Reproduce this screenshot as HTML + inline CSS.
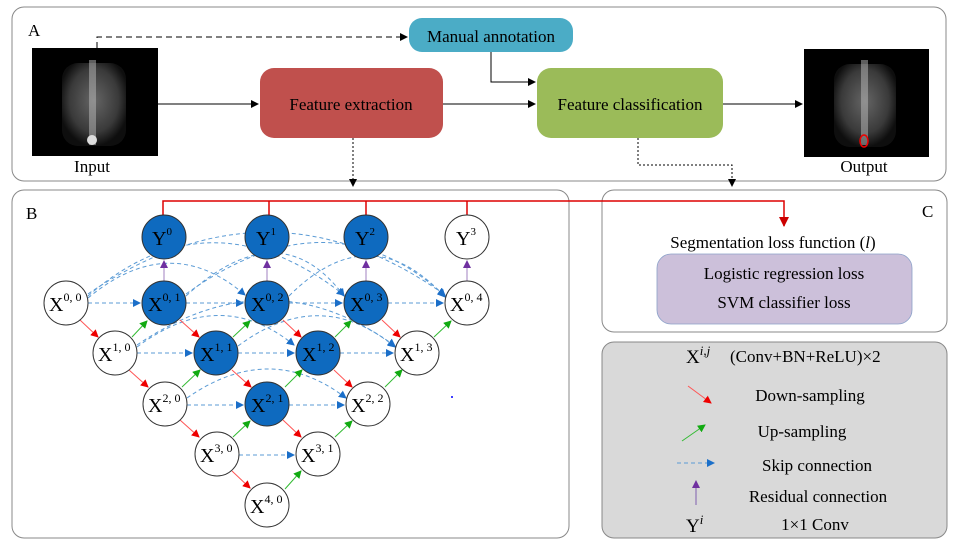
<!DOCTYPE html>
<html><head><meta charset="utf-8"><style>
html,body{margin:0;padding:0;background:#fff;}
svg{display:block;font-family:"Liberation Serif",serif;}
</style></head><body>
<svg width="957" height="546" viewBox="0 0 957 546" xmlns="http://www.w3.org/2000/svg">
<defs>
<marker id="ak" markerWidth="8" markerHeight="8" refX="7" refY="4" orient="auto" markerUnits="userSpaceOnUse"><path d="M0,0 L8,4 L0,8 z" fill="#000"/></marker>
<marker id="ar" markerWidth="8" markerHeight="8" refX="7" refY="4" orient="auto" markerUnits="userSpaceOnUse"><path d="M0,0 L8,4 L0,8 z" fill="#e00"/></marker>
<marker id="ag" markerWidth="8" markerHeight="8" refX="7" refY="4" orient="auto" markerUnits="userSpaceOnUse"><path d="M0,0 L8,4 L0,8 z" fill="#1a1"/></marker>
<marker id="ab" markerWidth="8" markerHeight="8" refX="7" refY="4" orient="auto" markerUnits="userSpaceOnUse"><path d="M0,0 L8,4 L0,8 z" fill="#1b6fc9"/></marker>
<marker id="ap" markerWidth="8" markerHeight="8" refX="7" refY="4" orient="auto" markerUnits="userSpaceOnUse"><path d="M0,0 L8,4 L0,8 z" fill="#7030a0"/></marker>
<marker id="ard" markerWidth="10" markerHeight="10" refX="9" refY="5" orient="auto" markerUnits="userSpaceOnUse"><path d="M0,0 L10,5 L0,10 z" fill="#c00"/></marker>
<radialGradient id="body" cx="50%" cy="45%" r="55%"><stop offset="0" stop-color="#777"/><stop offset="0.7" stop-color="#444"/><stop offset="1" stop-color="#111"/></radialGradient>
</defs>

<!-- Panel A -->
<rect x="12" y="7" width="934" height="174" rx="12" fill="#fff" stroke="#888" stroke-width="1"/>
<text x="28" y="36" font-size="17">A</text>
<rect x="32" y="48" width="126" height="108" fill="#000"/>
<rect x="62" y="63" width="64" height="83" rx="16" fill="url(#body)" opacity="0.85"/>
<rect x="89" y="60" width="7" height="85" fill="#bbb" opacity="0.5"/>
<ellipse cx="92" cy="140" rx="5" ry="5" fill="#ddd"/>
<text x="92" y="172" font-size="17" text-anchor="middle">Input</text>
<rect x="804" y="49" width="125" height="108" fill="#000"/>
<rect x="834" y="64" width="62" height="83" rx="16" fill="url(#body)" opacity="0.85"/>
<rect x="861" y="60" width="7" height="85" fill="#bbb" opacity="0.5"/>
<ellipse cx="864" cy="141" rx="4" ry="6" fill="none" stroke="#e00" stroke-width="1.5"/>
<text x="864" y="172" font-size="17" text-anchor="middle">Output</text>

<rect x="260" y="68" width="183" height="70" rx="14" fill="#c0504d"/>
<text x="351" y="110" font-size="17" text-anchor="middle">Feature extraction</text>
<rect x="537" y="68" width="186" height="70" rx="14" fill="#9bbb59"/>
<text x="630" y="110" font-size="17" text-anchor="middle">Feature classification</text>
<rect x="409" y="18" width="164" height="34" rx="13" fill="#4bacc6"/>
<text x="491" y="42" font-size="17" text-anchor="middle">Manual annotation</text>

<path d="M97,48 V37 H407" fill="none" stroke="#000" stroke-dasharray="6,4" marker-end="url(#ak)"/>
<path d="M491,52 V82 H535" fill="none" stroke="#000" marker-end="url(#ak)"/>
<path d="M158,104 H258" stroke="#000" marker-end="url(#ak)"/>
<path d="M443,104 H535" stroke="#000" marker-end="url(#ak)"/>
<path d="M723,104 H802" stroke="#000" marker-end="url(#ak)"/>
<path d="M353,138 V186" stroke="#000" stroke-dasharray="2,2" marker-end="url(#ak)"/>
<path d="M638,138 V165 H732 V186" fill="none" stroke="#000" stroke-dasharray="2,2" marker-end="url(#ak)"/>

<!-- Panel B -->
<rect x="12" y="190" width="557" height="348" rx="12" fill="#fff" stroke="#888"/>
<text x="26" y="219" font-size="17">B</text>
<!-- Panel C -->
<rect x="602" y="190" width="345" height="142" rx="12" fill="#fff" stroke="#888"/>
<text x="922" y="217" font-size="17">C</text>
<text x="773" y="248" font-size="17" text-anchor="middle">Segmentation loss function (<tspan font-style="italic">l</tspan>)</text>
<rect x="657" y="254" width="255" height="70" rx="14" fill="#ccc0da" stroke="#8aa0c8" stroke-width="0.8"/>
<text x="784" y="279" font-size="17" text-anchor="middle">Logistic regression loss</text>
<text x="784" y="308" font-size="17" text-anchor="middle">SVM classifier loss</text>

<!-- red top line -->
<path d="M163,215 V201 H784 V226" fill="none" stroke="#d00" stroke-width="1.5" marker-end="url(#ard)"/>
<path d="M269,201 V215 M366,201 V215 M467,201 V215" stroke="#d00" stroke-width="1.5"/>

<!-- skip connections -->
<g stroke="#5b9bd5" stroke-width="1" stroke-dasharray="4,3" fill="none">
<path d="M88,303 H140" marker-end="url(#ab)"/>
<path d="M186,303 H243" marker-end="url(#ab)"/>
<path d="M289,303 H342" marker-end="url(#ab)"/>
<path d="M388,303 H443" marker-end="url(#ab)"/>
<path d="M137,353 H192" marker-end="url(#ab)"/>
<path d="M238,353 H294" marker-end="url(#ab)"/>
<path d="M340,353 H393" marker-end="url(#ab)"/>
<path d="M187,405 H243" marker-end="url(#ab)"/>
<path d="M289,405 H344" marker-end="url(#ab)"/>
<path d="M239,455 H294" marker-end="url(#ab)"/>
<path d="M88,298 Q170,230 245,295" marker-end="url(#ab)"/>
<path d="M88,296 Q210,190 344,295" marker-end="url(#ab)"/>
<path d="M88,294 Q270,170 445,295" marker-end="url(#ab)"/>
<path d="M186,296 Q280,210 344,296" marker-end="url(#ab)"/>
<path d="M186,294 Q330,190 445,296" marker-end="url(#ab)"/>
<path d="M289,296 Q370,215 445,297" marker-end="url(#ab)"/>
<path d="M137,347 Q220,285 294,345" marker-end="url(#ab)"/>
<path d="M137,345 Q270,255 395,346" marker-end="url(#ab)"/>
<path d="M238,346 Q320,285 395,347" marker-end="url(#ab)"/>
<path d="M187,398 Q270,340 346,398" marker-end="url(#ab)"/>
</g>

<!-- down-sampling red -->
<g stroke="#f55" stroke-width="1" marker-end="url(#ar)">
<path d="M80,320 L98,337"/><path d="M129,370 L148,387"/><path d="M180,420 L199,437"/><path d="M232,471 L250,488"/>
<path d="M180,320 L199,337"/><path d="M232,370 L251,387"/><path d="M283,420 L301,437"/>
<path d="M283,320 L301,337"/><path d="M334,370 L352,387"/><path d="M382,320 L400,337"/>
</g>
<!-- up-sampling green -->
<g stroke="#3b3" stroke-width="1" marker-end="url(#ag)">
<path d="M132,337 L147,321"/><path d="M182,387 L200,370"/><path d="M233,437 L250,421"/><path d="M285,489 L301,471"/>
<path d="M233,337 L250,321"/><path d="M285,387 L302,370"/><path d="M335,437 L352,421"/>
<path d="M335,337 L351,321"/><path d="M385,387 L402,370"/><path d="M434,337 L451,321"/>
</g>
<!-- residual purple -->
<g stroke="#a080c0" stroke-width="1" marker-end="url(#ap)">
<path d="M164,281 V261"/><path d="M267,281 V261"/><path d="M366,281 V261"/><path d="M467,281 V261"/>
</g>

<!-- nodes -->
<g stroke="#333" stroke-width="1" font-size="21">
<circle cx="164" cy="237" r="22" fill="#0e6abf"/><circle cx="267" cy="237" r="22" fill="#0e6abf"/><circle cx="366" cy="237" r="22" fill="#0e6abf"/><circle cx="467" cy="237" r="22" fill="#fff"/>
<circle cx="66" cy="303" r="22" fill="#fff"/><circle cx="164" cy="303" r="22" fill="#0e6abf"/><circle cx="267" cy="303" r="22" fill="#0e6abf"/><circle cx="366" cy="303" r="22" fill="#0e6abf"/><circle cx="467" cy="303" r="22" fill="#fff"/>
<circle cx="115" cy="353" r="22" fill="#fff"/><circle cx="216" cy="353" r="22" fill="#0e6abf"/><circle cx="318" cy="353" r="22" fill="#0e6abf"/><circle cx="417" cy="353" r="22" fill="#fff"/>
<circle cx="165" cy="404" r="22" fill="#fff"/><circle cx="267" cy="404" r="22" fill="#0e6abf"/><circle cx="368" cy="404" r="22" fill="#fff"/>
<circle cx="217" cy="454" r="22" fill="#fff"/><circle cx="318" cy="454" r="22" fill="#fff"/>
<circle cx="267" cy="505" r="22" fill="#fff"/>
</g>
<g font-size="20" fill="#000" stroke="none">
<text x="152" y="245">Y<tspan font-size="11" dy="-10">0</tspan></text>
<text x="256" y="245">Y<tspan font-size="11" dy="-10">1</tspan></text>
<text x="355" y="245">Y<tspan font-size="11" dy="-10">2</tspan></text>
<text x="456" y="245">Y<tspan font-size="11" dy="-10">3</tspan></text>
<text x="49" y="311">X<tspan font-size="12" dy="-10">0, 0</tspan></text>
<text x="148" y="311">X<tspan font-size="12" dy="-10">0, 1</tspan></text>
<text x="251" y="311">X<tspan font-size="12" dy="-10">0, 2</tspan></text>
<text x="350" y="311">X<tspan font-size="12" dy="-10">0, 3</tspan></text>
<text x="450" y="311">X<tspan font-size="12" dy="-10">0, 4</tspan></text>
<text x="98" y="361">X<tspan font-size="12" dy="-10">1, 0</tspan></text>
<text x="200" y="361">X<tspan font-size="12" dy="-10">1, 1</tspan></text>
<text x="302" y="361">X<tspan font-size="12" dy="-10">1, 2</tspan></text>
<text x="400" y="361">X<tspan font-size="12" dy="-10">1, 3</tspan></text>
<text x="148" y="412">X<tspan font-size="12" dy="-10">2, 0</tspan></text>
<text x="251" y="412">X<tspan font-size="12" dy="-10">2, 1</tspan></text>
<text x="351" y="412">X<tspan font-size="12" dy="-10">2, 2</tspan></text>
<text x="200" y="462">X<tspan font-size="12" dy="-10">3, 0</tspan></text>
<text x="301" y="462">X<tspan font-size="12" dy="-10">3, 1</tspan></text>
<text x="250" y="513">X<tspan font-size="12" dy="-10">4, 0</tspan></text>
</g>
<circle cx="452" cy="397" r="1" fill="#00f"/>

<!-- Legend -->
<rect x="602" y="342" width="345" height="196" rx="12" fill="#d9d9d9" stroke="#888"/>
<text x="686" y="363" font-size="19">X<tspan font-size="13" font-style="italic" dy="-8">i,j</tspan></text>
<text x="730" y="362" font-size="17">(Conv+BN+ReLU)×2</text>
<path d="M688,386 L711,403" stroke="#f55" marker-end="url(#ar)"/>
<text x="810" y="401" font-size="17" text-anchor="middle">Down-sampling</text>
<path d="M682,441 L705,425" stroke="#3b3" marker-end="url(#ag)"/>
<text x="802" y="437" font-size="17" text-anchor="middle">Up-sampling</text>
<path d="M677,463 H714" stroke="#5b9bd5" stroke-dasharray="4,3" marker-end="url(#ab)"/>
<text x="817" y="471" font-size="17" text-anchor="middle">Skip connection</text>
<path d="M696,505 V481" stroke="#8060b0" marker-end="url(#ap)"/>
<text x="818" y="502" font-size="17" text-anchor="middle">Residual connection</text>
<text x="686" y="532" font-size="19">Y<tspan font-size="13" font-style="italic" dy="-8">i</tspan></text>
<text x="815" y="530" font-size="17" text-anchor="middle">1×1 Conv</text>
</svg>
</body></html>
